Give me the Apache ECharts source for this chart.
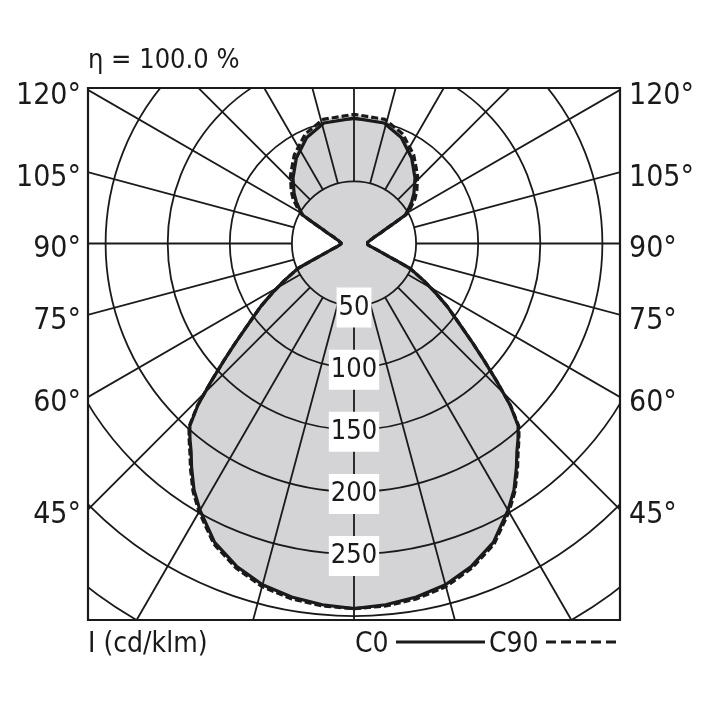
<!DOCTYPE html>
<html>
<head>
<meta charset="utf-8">
<script src="https://cdn.jsdelivr.net/npm/echarts@6/dist/echarts.min.js"></script>
<style>
html,body{margin:0;padding:0;background:#fff;}
#chart{width:708px;height:708px;}
</style>
</head>
<body>
<div id="chart"></div>
<script>
// gamma angle from nadir (degrees), one half of the symmetric curve
const gammaDeg = [0,5,10,15,20,25,30,33,36,38,40,42,44,46,48,50,53,56,59,62,66,68,70,75,80,85,90,95,100,105,108,111,114,117,119,122,126,130,137,146,156,166,180];
// luminous intensity, cd/klm
const c0Values  = [294,292,289,284.5,276.5,265.5,248,236.5,222.5,213,205.5,197.5,181,160,141,125,105,90.5,76,63.6,49.5,36.5,28.5,18.5,13.5,11,10,11,12.5,15.5,17.5,22,27,37,47,51.5,57.5,63,72,83,93.5,100,101];
const c90Values = [294,293,290.5,286,278,267,249.5,238,224,214.5,206.5,198.5,181.5,160,141,125,105,90.5,76,63.6,49.5,36.5,28.5,18.5,13.5,11,10,11,12.5,15.5,17.5,22,27,37,48,53.5,60.5,66,75,86,96.5,103,104];
// grid
const radiusTickLabels = [50,100,150,200,250];
const gridAngles = [0,15,30,45,60,75,90,105,120,135,150,165,180,195,210,225,240,255,270,285,300,315,330,345];
const gridInnerRadius = 50;
const radiusMax = 400;
const sideLabels = ['120°','105°','90°','75°','60°','45°'];
const titleText = 'η = 100.0 %';
const unitText = 'I (cd/klm)';
const seriesNames = ['C0','C90'];

function fullCurve(vals){
  const pts = gammaDeg.map((g,i)=>[vals[i], g]);
  for(let i=gammaDeg.length-2;i>=0;i--) pts.push([vals[i], 360-gammaDeg[i]]);
  return pts;
}

const FONT = "'Liberation Sans Narrow','Arial Narrow','DejaVu Sans Condensed','Liberation Sans',sans-serif";
const INK = '#1a1a1a';
const BOX = {l:88, t:88, r:620, b:620};
const sideY = [96,178,249,321,403,515];

const chart = echarts.init(document.getElementById('chart'), null, {renderer:'canvas'});

const graphics = [];
// masks outside the frame
[[0,0,708,BOX.t],[0,BOX.b,708,708-BOX.b],[0,0,BOX.l,708],[BOX.r,0,708-BOX.r,708]].forEach(r=>{
  graphics.push({type:'rect', z:100, silent:true, shape:{x:r[0],y:r[1],width:r[2],height:r[3]}, style:{fill:'#fff'}});
});
graphics.push({type:'rect', z:101, silent:true, shape:{x:BOX.l,y:BOX.t,width:BOX.r-BOX.l,height:BOX.b-BOX.t}, style:{fill:null, stroke:INK, lineWidth:2.2}});
sideLabels.forEach((t,i)=>{
  graphics.push({type:'text', z:102, x:81, y:sideY[i], style:{text:t, fill:INK, font:'30px '+FONT, textAlign:'right', textVerticalAlign:'middle'}});
  graphics.push({type:'text', z:102, x:629, y:sideY[i], style:{text:t, fill:INK, font:'30px '+FONT, textAlign:'left', textVerticalAlign:'middle'}});
});
graphics.push({type:'text', z:102, x:88, y:61, style:{text:titleText, fill:INK, font:'27px '+FONT, textAlign:'left', textVerticalAlign:'middle'}});
graphics.push({type:'text', z:102, x:88, y:645, style:{text:unitText, fill:INK, font:'28px '+FONT, textAlign:'left', textVerticalAlign:'middle'}});
graphics.push({type:'text', z:102, x:355, y:645, style:{text:seriesNames[0], fill:INK, font:'28px '+FONT, textAlign:'left', textVerticalAlign:'middle'}});
graphics.push({type:'line', z:102, shape:{x1:396,y1:642,x2:485,y2:642}, style:{stroke:INK, lineWidth:3}});
graphics.push({type:'text', z:102, x:489, y:645, style:{text:seriesNames[1], fill:INK, font:'28px '+FONT, textAlign:'left', textVerticalAlign:'middle'}});
graphics.push({type:'line', z:102, shape:{x1:546,y1:642,x2:620,y2:642}, style:{stroke:INK, lineWidth:3, lineDash:[10,5]}});

const option = {
  animation:false,
  backgroundColor:'#fff',
  polar:{center:[354,243.5], radius: radiusMax*1.242},
  angleAxis:{type:'value', min:0, max:360, interval:15, startAngle:270, clockwise:false,
    axisLine:{show:false}, axisTick:{show:false}, axisLabel:{show:false}, splitLine:{show:false}},
  radiusAxis:{type:'value', min:0, max:radiusMax, interval:50, z:4,
    axisLine:{show:false}, axisTick:{show:false}, axisLabel:{show:false},
    splitLine:{show:true, lineStyle:{color:INK, width:1.8}}},
  graphic:{elements:graphics},
  series:[
    {type:'line', name:'fill', coordinateSystem:'polar', data:fullCurve(c90Values), symbol:'none', silent:true,
      lineStyle:{width:0, opacity:0}, areaStyle:{color:'#d4d4d6', opacity:1}, z:1},
    {type:'custom', name:'radials', coordinateSystem:'polar', silent:true, z:3,
      data:gridAngles.map(a=>[gridInnerRadius, a]),
      renderItem:function(params, api){
        const a = api.value(1);
        const p0 = api.coord([api.value(0), a]);
        const p1 = api.coord([radiusMax, a]);
        return {type:'line', shape:{x1:p0[0],y1:p0[1],x2:p1[0],y2:p1[1]}, style:{stroke:INK, lineWidth:1.8}};
      }},
    {type:'scatter', name:'ticks', coordinateSystem:'polar', silent:true, z:5, symbolSize:1,
      itemStyle:{color:'#fff', opacity:1},
      data:radiusTickLabels.map(v=>[v,0]),
      label:{show:true, position:'inside', offset:[0,2], formatter:p=>String(p.value[0]), backgroundColor:'#fff',
        padding:[7,2,7,2], lineHeight:26, color:INK, opacity:1, fontSize:27, fontFamily:FONT}},
    {type:'line', name:seriesNames[1], coordinateSystem:'polar', data:fullCurve(c90Values), symbol:'none', silent:true, z:6,
      lineStyle:{color:INK, width:3.2, type:[7,3]}},
    {type:'line', name:seriesNames[0], coordinateSystem:'polar', data:fullCurve(c0Values), symbol:'none', silent:true, z:7,
      lineStyle:{color:INK, width:3.2}}
  ]
};
chart.setOption(option);
</script>
</body>
</html>
